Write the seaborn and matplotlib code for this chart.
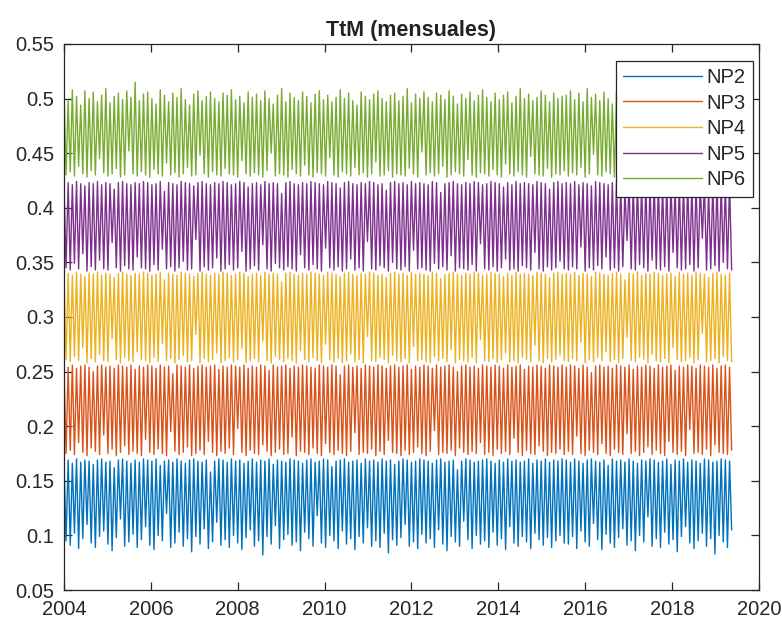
import numpy as np
import pandas as pd
import matplotlib
matplotlib.use("Agg")
import matplotlib.pyplot as plt
import matplotlib.ticker as mticker
import seaborn as sns

# --------------------------------------------------------------------
# Data (in thousandths)
# each series alternates peak / trough, so keep the two sides apart
# --------------------------------------------------------------------

NP2_hi = [168,169,166,170,167,169,168,165,169,170,167,168,162,169,170,168,166,169,167,170,
          169,168,170,164,168,169,167,170,168,166,169,170,168,167,169,158,168,170,169,167,
          170,168,169,166,168,170,167,169,168,170,165,169,168,167,170,169,168,166,169,170,
          167,168,170,169,163,168,169,170,167,168,169,166,170,168,169,167,170,168,169,165,
          168,170,169,167,168,170,169,168,166,169,170,167,168,169,160,168,170,169,167,168,
          169,170,168,166,169,167,170,168,169,167,168,170,166,169,168,170,167,169,168,170,
          169,167,170,168,166,169,170,168,167,169,164,170,168,169,167,170,168,166,169,168,
          170,169,167,168,170,165,169,168,170,167,169,168,166,170,169,167,168,170,169,168]
NP2_lo = [95,91,102,88,97,110,93,89,99,104,92,86,98,115,90,94,101,89,96,108,
          91,87,100,95,120,89,93,103,90,97,85,99,92,106,88,94,112,91,96,89,
          100,93,87,98,105,90,95,82,99,92,109,88,96,101,91,94,86,103,97,90,
          118,93,89,100,95,88,104,92,97,87,99,93,107,90,95,89,102,84,96,91,
          98,110,90,94,88,101,93,97,89,105,92,86,99,94,90,113,96,88,100,92,
          95,89,103,91,97,87,108,93,90,99,94,88,102,96,91,98,89,95,100,93,
          92,99,88,104,94,90,111,96,87,101,93,89,98,106,91,95,86,100,94,117,
          90,97,89,103,92,96,85,99,108,93,88,95,102,90,97,83,100,94,89,105]

NP3_hi = [255,254,256,253,255,256,254,250,255,256,254,255,253,256,255,254,256,252,255,254,
          256,255,253,256,254,255,248,256,255,254,256,253,255,256,254,255,256,252,255,254,
          256,255,254,256,253,255,254,256,255,251,256,254,255,256,253,255,254,256,255,254,
          253,256,255,254,256,255,247,255,256,254,255,253,256,255,254,256,255,253,255,256,
          254,255,256,252,255,254,256,255,253,256,254,255,256,254,250,255,256,254,255,253,
          256,255,254,256,255,253,256,254,255,256,252,255,254,256,255,253,256,255,254,256,
          254,256,255,253,256,254,249,255,256,254,255,253,256,255,254,256,252,255,254,256,
          255,253,256,254,255,256,251,255,254,256,255,253,256,255,254,256,253,255,256,254]
NP3_lo = [175,178,174,185,176,173,180,177,174,192,175,179,173,176,182,174,177,175,173,188,
          176,174,179,175,173,195,177,174,176,181,173,175,178,174,186,176,173,177,175,180,
          174,198,176,173,178,175,174,183,177,173,176,179,174,175,190,173,177,176,174,180,
          175,173,184,176,174,178,175,173,177,194,174,176,175,179,173,177,174,187,176,175,
          173,178,174,176,181,175,173,177,196,174,176,175,178,173,180,176,174,177,175,185,
          174,176,173,179,175,177,174,189,176,173,178,175,174,182,177,173,176,175,179,174,
          177,174,191,175,173,178,176,174,184,175,173,179,176,174,193,175,177,173,176,181,
          174,178,175,173,186,176,174,177,173,197,175,176,174,179,173,183,176,175,174,178]

NP4_hi = [339,340,338,341,339,337,340,339,341,338,340,339,336,340,341,339,338,340,339,341,
          340,338,339,341,334,340,339,338,341,340,339,337,340,341,339,338,340,339,341,340,
          338,339,341,340,337,339,340,338,341,339,340,339,332,340,341,339,338,340,339,341,
          340,339,338,341,340,339,337,340,341,339,338,340,339,341,340,338,339,336,340,341,
          339,340,338,341,339,340,339,338,341,340,335,339,340,341,339,338,340,339,341,340,
          338,339,341,340,339,337,340,338,341,339,340,339,338,341,340,339,336,340,341,339,
          340,339,341,338,340,339,337,341,340,339,338,340,341,339,334,340,339,341,338,340,
          339,341,340,338,339,340,337,341,339,340,338,341,340,339,336,340,341,339,338,340]
NP4_lo = [261,259,264,260,272,258,262,259,266,260,259,280,261,258,263,260,259,268,261,260,
          258,263,259,276,260,262,258,261,265,259,260,284,258,262,259,261,267,258,260,263,
          259,261,271,258,260,262,259,278,260,258,264,261,259,262,260,258,269,261,259,263,
          260,258,275,261,259,262,258,260,266,259,261,258,282,260,259,263,261,258,265,260,
          259,262,258,273,260,261,259,258,264,260,262,259,270,258,261,260,259,263,258,279,
          260,259,262,258,261,267,259,260,258,263,261,259,274,260,258,262,259,261,265,260,
          259,262,260,277,258,261,259,263,260,268,259,261,258,262,281,260,259,263,261,258,
          266,260,259,262,258,272,261,259,260,263,258,261,285,259,260,262,258,264,260,259]

NP5_hi = [422,423,421,424,422,420,423,422,424,421,423,422,417,423,424,422,421,423,422,424,
          423,421,422,424,415,423,422,421,424,423,422,420,423,424,422,421,423,422,424,423,
          421,422,424,423,419,422,423,421,424,422,423,422,413,423,424,422,421,423,422,424,
          423,422,421,424,423,422,418,423,424,422,421,423,422,424,423,421,422,416,423,424,
          422,423,421,424,422,423,422,421,424,423,414,422,423,424,422,421,423,422,424,423,
          421,422,424,423,422,419,423,421,424,422,423,422,421,424,423,422,417,423,424,422,
          423,422,424,421,423,422,420,424,423,422,421,423,424,422,416,423,422,424,421,423,
          422,424,423,421,422,423,419,424,422,423,421,424,423,422,418,423,424,422,421,423]
NP5_lo = [345,343,349,344,358,342,346,343,352,344,343,368,345,342,347,344,343,355,345,344,
          342,348,343,362,344,346,342,345,351,343,344,371,342,346,343,345,354,342,344,348,
          343,345,360,342,344,347,343,366,344,342,349,345,343,346,344,342,357,345,343,348,
          344,342,363,345,343,346,342,344,353,343,345,342,369,344,343,347,345,342,350,344,
          343,346,342,361,344,345,343,342,349,344,346,343,356,342,345,344,343,348,342,367,
          344,343,346,342,345,353,343,344,342,347,345,343,359,344,342,346,343,345,351,344,
          343,346,344,364,342,345,343,347,344,355,343,345,342,346,370,344,343,348,345,342,
          352,344,343,346,342,359,345,343,344,348,342,345,372,343,344,347,342,350,344,343]

NP6_hi = [505,498,508,502,494,507,500,506,497,503,509,496,502,505,499,507,501,515,498,504,
          506,500,495,508,503,497,505,501,509,499,494,504,507,498,502,506,500,497,505,503,
          508,499,502,496,506,501,504,498,507,500,495,503,509,497,505,501,498,506,502,496,
          504,507,499,503,497,501,508,500,505,498,494,506,502,499,504,507,500,497,503,505,
          498,502,509,496,504,500,506,501,497,505,503,499,507,502,495,504,500,506,498,503,
          508,501,497,505,499,503,506,496,502,509,500,504,498,501,507,503,497,505,500,502,
          503,507,499,505,497,509,501,504,498,506,500,495,507,502,499,505,503,497,508,501,
          504,498,506,500,496,503,509,499,505,501,497,507,502,504,498,506,500,503,508,499]
NP6_lo = [430,433,429,438,431,428,434,430,445,432,429,431,436,428,430,452,431,429,433,430,
          428,435,431,429,441,430,432,428,431,437,429,430,448,431,428,433,430,429,436,431,
          430,428,443,431,429,432,430,428,434,450,429,431,430,428,435,431,429,439,430,428,
          432,431,429,446,430,428,433,431,429,437,430,432,428,431,442,429,430,434,428,431,
          430,429,436,431,428,451,430,432,429,431,438,428,430,433,431,429,444,430,428,432,
          431,429,435,430,428,440,431,429,433,430,428,447,431,430,429,436,428,431,430,434,
          429,432,430,437,428,431,449,430,429,433,431,428,436,430,432,429,442,431,428,430,
          434,429,431,446,430,428,432,430,439,431,429,428,435,430,453,431,429,433,430,428]

SERIES = {
    "NP2": (NP2_hi, NP2_lo),
    "NP3": (NP3_hi, NP3_lo),
    "NP4": (NP4_hi, NP4_lo),
    "NP5": (NP5_hi, NP5_lo),
    "NP6": (NP6_hi, NP6_lo),
}
START, END = 2004.0, 2019.37
COLORS = ["#0072BD", "#D95319", "#EDB120", "#7E2F8E", "#77AC30"]

# build long table
rows = []
for name, (hi, lo) in SERIES.items():
    vals = [v for pair in zip(hi, lo) for v in pair]
    x = np.linspace(START, END, len(vals))
    for xi, v in zip(x, vals):
        rows.append((name, xi, v / 1000.0))
df = pd.DataFrame(rows, columns=["serie", "fecha", "TtM"])

# --------------------------------------------------------------------
# Plot
# --------------------------------------------------------------------

sns.set_theme(style="ticks")
plt.rcParams["font.family"] = ["Liberation Sans", "DejaVu Sans"]

fig = plt.figure(figsize=(7.82, 6.27), dpi=100)
ax = fig.add_axes([0.0818, 0.059, 0.8888, 0.8710])

sns.lineplot(data=df, x="fecha", y="TtM", hue="serie", palette=COLORS,
             linewidth=1.0, ax=ax, estimator=None, sort=False)

ax.set_xlim(2004, 2020)
ax.set_ylim(0.05, 0.55)
ax.set_xticks(np.arange(2004, 2021, 2))
ax.set_yticks(np.arange(0.05, 0.551, 0.05))
ax.yaxis.set_major_formatter(mticker.FuncFormatter(lambda v, p: f"{v:g}"))
ax.set_xlabel("")
ax.set_ylabel("")
ax.set_title("TtM (mensuales)", fontsize=15.5, fontweight="bold", pad=6,
             color="#222222")

for s in ax.spines.values():
    s.set_color("#262626")
    s.set_linewidth(0.9)
ax.tick_params(direction="in", length=6, width=0.9, top=True, right=True,
               labelsize=14.5, colors="#262626", pad=7)

leg = ax.legend(loc="upper right", bbox_to_anchor=(0.9914, 0.969), fontsize=14.5,
                frameon=True, fancybox=False, framealpha=1, edgecolor="#262626",
                handlelength=3.9, handletextpad=0.25, labelspacing=0.33,
                borderaxespad=0.0, borderpad=0.35)
leg.get_frame().set_linewidth(0.9)
for line in leg.get_lines():
    line.set_linewidth(1.0)

fig.savefig("out.png", dpi=100)
